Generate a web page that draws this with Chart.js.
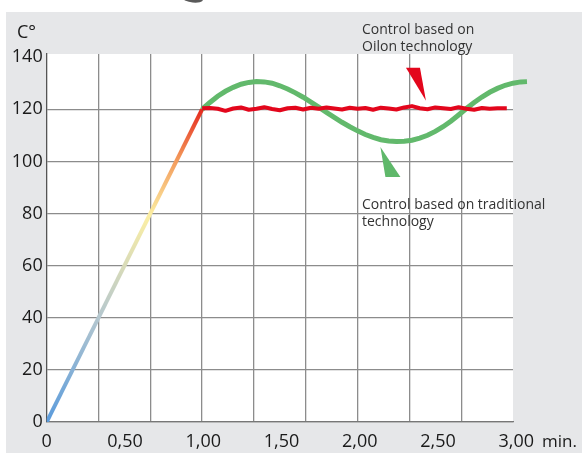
<!DOCTYPE html>
<html>
<head>
<meta charset="utf-8">
<script src="https://cdn.jsdelivr.net/npm/chart.js@4/dist/chart.umd.min.js"></script>
<style>
  html, body { margin: 0; padding: 0; background: #fff; }
  #wrap { width: 582px; height: 453px; position: relative; }
</style>
</head>
<body>
<div id="wrap"><canvas id="temp-chart"></canvas></div>
<script>
// axis ticks
const xTickValues = [0, 0.5, 1, 1.5, 2, 2.5, 3];
const xTickLabels = ["0", "0,50", "1,00", "1,50", "2,00", "2,50", "3,00"];
const xGridValues = [0, 1 / 3, 2 / 3, 1, 4 / 3, 5 / 3, 2, 7 / 3, 8 / 3, 3];
const yTickValues = [0, 20, 40, 60, 80, 100, 120, 140];

// heating ramp (shared by both controls)
const rampX = [0, 1.0];
const rampY = [0, 120];

// Oilon control, red
const oilonX = [1.0, 1.05, 1.1, 1.15, 1.2, 1.25, 1.3, 1.35, 1.4, 1.45, 1.5, 1.55, 1.6, 1.65, 1.7, 1.75, 1.8, 1.85, 1.9, 1.95,
  2.0, 2.05, 2.1, 2.15, 2.2, 2.25, 2.3, 2.35, 2.4, 2.45, 2.5, 2.55, 2.6, 2.65, 2.7, 2.75, 2.8, 2.85, 2.9, 2.96];
const oilonY = [120.4, 120.5, 120.2, 119.4, 120.3, 120.7, 119.8, 120.2, 120.8, 120.1, 119.6, 120.4, 120.6, 119.9, 120.6, 120.2, 120.7, 120.3, 119.9, 120.6,
  120.2, 120.5, 119.8, 120.6, 120.3, 119.9, 120.7, 121.2, 120.4, 120.0, 120.7, 120.4, 120.1, 120.8, 120.2, 119.8, 120.5, 120.2, 120.4, 120.4];

// traditional control, green (runs a little past the 3,00 edge)
const tradX = [1.0, 1.05, 1.1, 1.15, 1.2, 1.25, 1.3, 1.35, 1.4, 1.45, 1.5, 1.55, 1.6, 1.65, 1.7, 1.75, 1.8, 1.85, 1.9, 1.95,
  2.0, 2.05, 2.1, 2.15, 2.2, 2.25, 2.3, 2.35, 2.4, 2.45, 2.5, 2.55, 2.6, 2.65, 2.7, 2.75, 2.8, 2.85, 2.9, 2.95, 3.0, 3.05, 3.09];
const tradY = [120.0, 122.6, 125.0, 126.9, 128.4, 129.6, 130.3, 130.6, 130.5, 130.0, 129.0, 127.8, 126.3, 124.6, 122.7, 120.8, 118.8, 116.9, 115.0, 113.3,
  111.7, 110.3, 109.2, 108.3, 107.8, 107.6, 107.7, 108.1, 108.9, 110.0, 111.5, 113.3, 115.4, 117.8, 120.3, 122.6, 124.7, 126.5, 128.0, 129.2, 130.0, 130.5, 130.6];

const FONT = "'Open Sans', 'Noto Sans', sans-serif";

function toPoints(xs, ys) {
  return xs.map((x, i) => ({ x: x, y: ys[i] }));
}

function rampGradient(context) {
  const chart = context.chart;
  if (!chart.chartArea) return "#5b9bd8";
  const y0 = chart.scales.y.getPixelForValue(0);
  const y1 = chart.scales.y.getPixelForValue(120);
  const g = chart.ctx.createLinearGradient(0, y0, 0, y1);
  g.addColorStop(0, "#5a9bdc");
  g.addColorStop(0.33, "#b3c6cf");
  g.addColorStop(0.66, "#fcefa4");
  g.addColorStop(0.84, "#f3995a");
  g.addColorStop(1, "#e52a1e");
  return g;
}

// grey panel + white plot box
const backdrop = {
  id: "backdrop",
  beforeDraw(chart) {
    const { ctx, chartArea } = chart;
    ctx.save();
    ctx.fillStyle = "#ffffff";
    ctx.fillRect(0, 0, chart.width, chart.height);
    ctx.fillStyle = "#e6e7e9";
    ctx.fillRect(6, 12, chart.width - 6, chart.height - 12);
    ctx.fillStyle = "#ffffff";
    ctx.fillRect(chartArea.left, chartArea.top, chartArea.right - chartArea.left, chartArea.bottom - chartArea.top);
    // little dark shape at the top edge
    ctx.fillStyle = "#5a5a5a";
    ctx.beginPath();
    ctx.ellipse(193, -1, 10, 3.5, 0.1, 0, Math.PI);
    ctx.fill();
    ctx.restore();
  }
};

// arrows, notes and unit labels
const notes = {
  id: "notes",
  afterDatasetsDraw(chart) {
    const { ctx } = chart;
    const xs = chart.scales.xg, ys = chart.scales.y;
    ctx.save();

    // red arrow
    let tx = xs.getPixelForValue(2.44), ty = ys.getPixelForValue(123.3);
    ctx.fillStyle = "#e3061c";
    ctx.beginPath();
    ctx.moveTo(tx - 20, ty - 33);
    ctx.lineTo(tx - 6, ty - 33);
    ctx.lineTo(tx, ty);
    ctx.closePath();
    ctx.fill();

    // green arrow
    tx = xs.getPixelForValue(2.147); ty = ys.getPixelForValue(105.5);
    ctx.fillStyle = "#5fb86a";
    ctx.beginPath();
    ctx.moveTo(tx, ty);
    ctx.lineTo(tx + 20, ty + 30);
    ctx.lineTo(tx + 5, ty + 30);
    ctx.closePath();
    ctx.fill();

    ctx.fillStyle = "#333";
    ctx.font = "14px " + FONT;
    ctx.textBaseline = "alphabetic";
    ctx.textAlign = "left";
    ctx.fillText("Control based on", 362, 34);
    ctx.fillText("Oilon technology", 362, 51);
    ctx.fillText("Control based on traditional", 362, 209);
    ctx.fillText("technology", 362, 226);

    ctx.fillStyle = "#1a1a1a";
    ctx.font = "18px " + FONT;
    ctx.fillText("C°", 17, 38);
    ctx.font = "17px " + FONT;
    ctx.fillText("min.", 542, 447);
    ctx.restore();
  }
};

function createTemperatureChart() {
  const ctx = document.getElementById("temp-chart").getContext("2d");
  return new Chart(ctx, {
    type: "line",
    data: {
      datasets: [
        {
          label: "Oilon",
          data: toPoints(oilonX, oilonY),
          borderColor: "#e3061c",
          borderWidth: 4,
          pointRadius: 0,
          borderJoinStyle: "round",
          order: 1,
          xAxisID: "xg",
          yAxisID: "y",
        },
        {
          label: "Traditional",
          // handed over last-to-first so the part beyond 3,00 is not cut off
          data: toPoints(tradX, tradY).reverse(),
          borderColor: "#62b96c",
          borderWidth: 5,
          pointRadius: 0,
          clip: false,
          order: 2,
          xAxisID: "xg",
          yAxisID: "y",
        },
        {
          label: "Ramp",
          data: toPoints(rampX, rampY),
          borderColor: rampGradient,
          borderWidth: 4,
          pointRadius: 0,
          order: 3,
          xAxisID: "xg",
          yAxisID: "y",
        },
      ],
    },
    options: {
      responsive: true,
      maintainAspectRatio: false,
      animation: false,
      events: [],
      layout: { padding: { top: 54, right: 69, left: 0, bottom: 0 } },
      plugins: { legend: { display: false }, tooltip: { enabled: false } },
      scales: {
        xg: {
          type: "linear",
          position: "bottom",
          min: 0,
          max: 3,
          afterBuildTicks: (scale) => { scale.ticks = xGridValues.map((v) => ({ value: v })); },
          afterFit: (scale) => { scale.height = 0; },
          ticks: { display: false },
          border: { display: false },
          grid: {
            drawTicks: false,
            lineWidth: 1.3,
            color: (c) => (c.index === 0 || c.index === xGridValues.length - 1 ? "rgba(0,0,0,0)" : "#8c8c8c"),
          },
        },
        x: {
          type: "linear",
          position: "bottom",
          min: 0,
          max: 2.979,
          afterBuildTicks: (scale) => { scale.ticks = xTickValues.map((v) => ({ value: v })); },
          afterFit: (scale) => { scale.height = 31; },
          border: { display: true, color: "#777", width: 1.3 },
          grid: { display: false, drawTicks: false },
          ticks: {
            autoSkip: false,
            maxRotation: 0,
            padding: 9,
            color: "#1a1a1a",
            font: { family: FONT, size: 18 },
            callback: (v, i) => xTickLabels[i],
          },
        },
        y: {
          type: "linear",
          min: 0,
          max: 141.2,
          afterBuildTicks: (scale) => { scale.ticks = yTickValues.map((v) => ({ value: v })); },
          afterFit: (scale) => { scale.width = 46.7; },
          border: { display: true, color: "#555", width: 1.3 },
          grid: {
            drawTicks: false,
            lineWidth: 1.3,
            color: (c) => (c.tick && c.tick.value === 140 ? "rgba(0,0,0,0)" : "#8c8c8c"),
          },
          ticks: {
            padding: 4,
            color: "#1a1a1a",
            font: { family: FONT, size: 18 },
          },
        },
      },
    },
    plugins: [backdrop, notes],
  });
}

document.addEventListener("DOMContentLoaded", () => {
  createTemperatureChart();
});
</script>
</body>
</html>
